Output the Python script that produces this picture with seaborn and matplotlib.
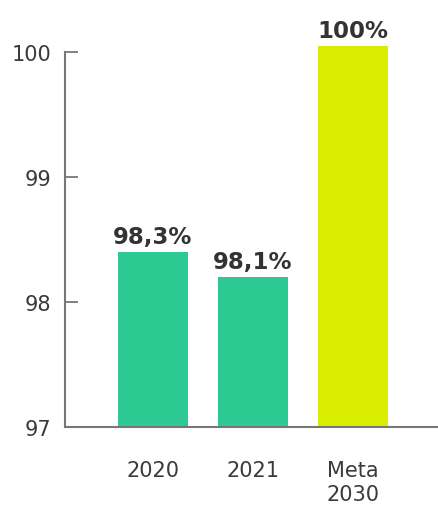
import matplotlib
matplotlib.use("Agg")
import matplotlib.pyplot as plt
import seaborn as sns
import pandas as pd

categories = ["2020", "2021", "Meta\n2030"]
values = [98.4, 98.2, 100.05]
bar_labels = ["98,3%", "98,1%", "100%"]
colors = ["#2dc993", "#2dc993", "#d9ed00"]
yticks = [97, 98, 99, 100]

sns.set_theme(style="white")
plt.rcParams["font.family"] = ["DejaVu Sans"]

df = pd.DataFrame({"cat": categories, "val": values})

fig = plt.figure(figsize=(4.38, 5.06), dpi=100)
ax = fig.add_axes([65/438, 78/506, 1 - 65/438, 425/506])

sns.barplot(data=df, x="cat", y="val", hue="cat", palette=colors,
            legend=False, width=0.7, ax=ax, bottom=0, saturation=1,
            linewidth=0)

ax.set_ylim(97, 100.4)
ax.set_xlim(-0.88, 2.85)
ax.set_yticks(yticks)
ax.set_yticklabels([str(t) for t in yticks], fontsize=15, color="#3a3a3a")
ax.tick_params(axis="y", left=True, direction="in", length=9, width=1.3,
               color="#777777", pad=10)
ax.tick_params(axis="x", bottom=False, length=0, pad=24, labelsize=15,
               labelcolor="#3a3a3a")
ax.set_xlabel("")
ax.set_ylabel("")

for s in ["top", "right"]:
    ax.spines[s].set_visible(False)
for s in ["left", "bottom"]:
    ax.spines[s].set_color("#777777")
    ax.spines[s].set_linewidth(1.5)
ax.spines["left"].set_bounds(97, 100)

for i, (v, lab) in enumerate(zip(values, bar_labels)):
    ax.annotate(lab, (i, v), xytext=(0, 3), textcoords="offset points",
                ha="center", va="bottom", fontsize=16.5, fontweight="bold",
                color="#333333")

fig.savefig("out.png", dpi=100)
